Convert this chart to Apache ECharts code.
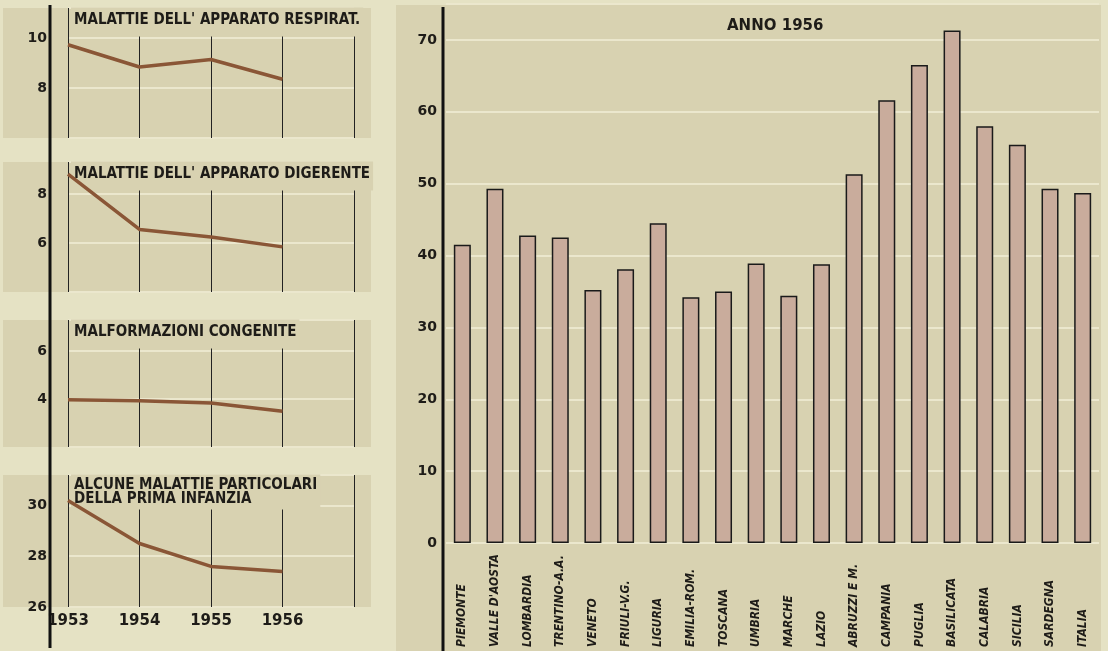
<!DOCTYPE html>
<html>
<head>
<meta charset="utf-8">
<script src="https://cdn.jsdelivr.net/npm/echarts@6/dist/echarts.min.js"></script>
<style>
html,body{margin:0;padding:0;background:#e5e2c4;}
#chart{width:1108px;height:651px;}
</style>
</head>
<body>
<div id="chart"></div>
<script>
// anni dei pannelli a sinistra (l'ultima colonna e' vuota)
var anni = ['1953', '1954', '1955', '1956', ''];
var respirat = [9.73, 8.84, 9.14, 8.35];
var digerente = [8.81, 6.55, 6.24, 5.84];
var congenite = [3.97, 3.93, 3.84, 3.49];
var infanzia = [30.2, 28.5, 27.6, 27.4];
var tickRespirat = [8, 10];
var tickDigerente = [6, 8];
var tickCongenite = [4, 6];
var tickInfanzia = [26, 28, 30];

// anno 1956 per regione
var regioni = ['PIEMONTE', 'VALLE D\'AOSTA', 'LOMBARDIA', 'TRENTINO-A.A.', 'VENETO', 'FRIULI-V.G.',
    'LIGURIA', 'EMILIA-ROM.', 'TOSCANA', 'UMBRIA', 'MARCHE', 'LAZIO', 'ABRUZZI E M.', 'CAMPANIA',
    'PUGLIA', 'BASILICATA', 'CALABRIA', 'SICILIA', 'SARDEGNA', 'ITALIA'];
var valori1956 = [41.5, 49.3, 42.8, 42.5, 35.2, 38.1, 44.5, 34.2, 35.0, 38.9,
    34.4, 38.8, 51.3, 61.6, 66.5, 71.3, 58.0, 55.4, 49.3, 48.7];
var tickRegioni = [0, 10, 20, 30, 40, 50, 60, 70];

var panelBg = '#d8d2b1';
var ink = '#1e1c18';
var numFont = 'DejaVu Sans';
var titFont = 'DejaVu Sans Condensed';

var pannelli = [
    {titolo: 'MALATTIE DELL\' APPARATO RESPIRAT.', dati: respirat, tick: tickRespirat, top: 8, h: 130, min: 6, max: 11.2},
    {titolo: 'MALATTIE DELL\' APPARATO DIGERENTE', dati: digerente, tick: tickDigerente, top: 162, h: 130, min: 4, max: 9.3},
    {titolo: 'MALFORMAZIONI CONGENITE', dati: congenite, tick: tickCongenite, top: 320, h: 127, min: 2, max: 7.3},
    {titolo: 'ALCUNE MALATTIE PARTICOLARI\nDELLA PRIMA INFANZIA', dati: infanzia, tick: tickInfanzia, top: 475, h: 132, min: 26, max: 31.2}
];

var grid = [], xAxis = [], yAxis = [], series = [], title = [], graphic = [];

pannelli.forEach(function (p, i) {
    grid.push({left: 68, width: 286, top: p.top, height: p.h});
    xAxis.push({
        type: 'category', gridIndex: i, data: anni, boundaryGap: false,
        axisLine: {show: false}, axisTick: {show: false},
        axisLabel: {show: i == 3, margin: 7, color: ink, fontSize: 15, fontWeight: 'bold', fontFamily: numFont},
        splitLine: {show: true, lineStyle: {color: '#222', width: 1}}
    });
    (function (tk) {
        yAxis.push({
            type: 'value', gridIndex: i, min: p.min, max: p.max, interval: 2, offset: 18,
            axisLine: {show: false}, axisTick: {show: false},
            axisLabel: {
                margin: 3, color: ink, fontSize: 14, fontWeight: 'bold', fontFamily: numFont,
                formatter: function (v) { return tk.indexOf(v) >= 0 ? String(v) : ''; }
            },
            splitLine: {lineStyle: {color: '#ebe7cd', width: 2}}
        });
    })(p.tick);
    series.push({
        type: 'line', xAxisIndex: i, yAxisIndex: i, data: p.dati, symbol: 'none', z: 10,
        lineStyle: {color: '#8a5636', width: 3.5}
    });
    title.push({
        text: p.titolo, left: 71, top: p.top, backgroundColor: panelBg,
        padding: i == 3 ? [3, 3, 3, 3] : [5, 3, 9, 3],
        textStyle: {fontSize: 15, fontWeight: 'bold', color: ink, fontFamily: titFont, lineHeight: 14}
    });
    graphic.push({type: 'rect', z: -10, shape: {x: 3, y: p.top, width: 368, height: p.h}, style: {fill: panelBg}});
});

// grafico a barre
grid.push({left: 446, right: 9, top: 4, bottom: 108});
xAxis.push({
    type: 'category', gridIndex: 4, data: regioni,
    axisLine: {show: false}, axisTick: {show: false},
    axisLabel: {
        interval: 0, rotate: 90, align: 'left', verticalAlign: 'middle', margin: 104,
        color: ink, fontSize: 12, fontWeight: 'bold', fontStyle: 'italic', fontFamily: titFont
    }
});
yAxis.push({
    type: 'value', gridIndex: 4, min: 0, max: 75, interval: 10, offset: 3,
    axisLine: {show: false}, axisTick: {show: false},
    axisLabel: {
        margin: 6, color: ink, fontSize: 14, fontWeight: 'bold', fontFamily: numFont,
        formatter: function (v) { return tickRegioni.indexOf(v) >= 0 ? String(v) : ''; }
    },
    splitLine: {lineStyle: {color: '#ebe7cd', width: 2}}
});
series.push({
    type: 'bar', xAxisIndex: 4, yAxisIndex: 4, data: valori1956, barWidth: 17,
    itemStyle: {color: '#c9ac9c', borderColor: '#1a1a1a', borderWidth: 1.5}
});
title.push({
    text: 'ANNO 1956', left: 722, top: 14,
    textStyle: {fontSize: 15, fontWeight: 'bold', color: ink, fontFamily: numFont}
});

graphic.push({type: 'rect', z: -10, shape: {x: 396, y: 5, width: 705, height: 646}, style: {fill: panelBg}});
// assi verticali continui
graphic.push({type: 'line', z: 50, shape: {x1: 50, y1: 5, x2: 50, y2: 648}, style: {stroke: '#111', lineWidth: 3}});
graphic.push({type: 'line', z: 50, shape: {x1: 443, y1: 7, x2: 443, y2: 651}, style: {stroke: '#111', lineWidth: 3}});

var myChart = echarts.init(document.getElementById('chart'));
myChart.setOption({
    backgroundColor: '#e5e2c4',
    animation: false,
    title: title,
    grid: grid,
    xAxis: xAxis,
    yAxis: yAxis,
    series: series,
    graphic: graphic
});
</script>
</body>
</html>
